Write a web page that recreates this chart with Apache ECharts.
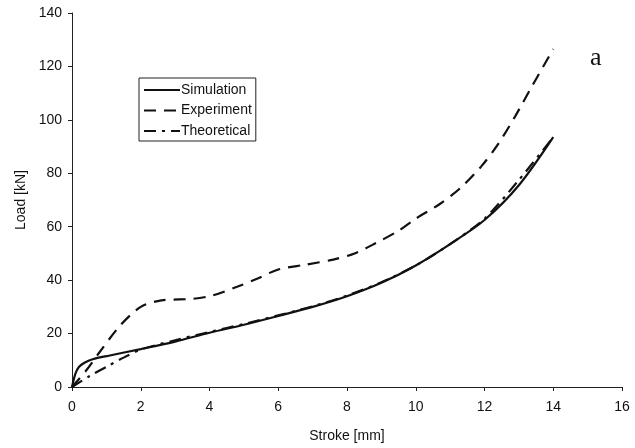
<!DOCTYPE html>
<html>
<head>
<meta charset="utf-8">
<script src="https://cdn.jsdelivr.net/npm/echarts@6/dist/echarts.min.js"></script>
<style>
html,body{margin:0;padding:0;background:#fff;}
#chart{width:635px;height:448px;}
</style>
</head>
<body>
<div id="chart"></div>
<script>
// values (stroke in mm, load in kN)
var simX = [0, 0.1, 0.2, 0.35, 0.6, 1.1, 2, 3, 4, 5, 6, 7, 8, 9, 10, 11, 12, 13, 14];
var simY = [0, 5, 7.5, 9, 10.4, 11.8, 14.2, 17, 20.3, 23.3, 26.6, 30, 34, 39, 45.5, 53.5, 62.5, 75.5, 93.5];
var expX = [0, 0.4, 0.8, 1.4, 2, 2.6, 3.5, 4.1, 4.8, 5.4, 6, 6.8, 7.6, 8.2, 8.8, 9.5, 10, 10.7, 11.3, 11.9, 12.4, 12.9, 13.4, 14];
var expY = [0, 6, 13, 23, 30, 32.4, 33, 34.3, 37.5, 40.6, 44, 45.8, 47.7, 49.9, 53.6, 58.5, 63, 68.5, 74.5, 82.5, 91, 101.5, 113, 126.5];
var theX = [0, 0.5, 1, 1.5, 2, 3, 4, 5, 6, 7, 8, 9, 10, 11, 12, 13, 14];
var theY = [0, 4, 7.5, 11, 14, 17.5, 20.6, 23.6, 26.8, 30.2, 34.2, 39.2, 45.5, 53.5, 63, 77.5, 93.5];
var xTicks = [0, 16, 2];
var yTicks = [0, 140, 20];

function pairs(xs, ys) {
    var out = [];
    for (var i = 0; i < xs.length; i++) {
        out.push([xs[i], ys[i]]);
    }
    return out;
}

var font = 'Liberation Sans, Arial, sans-serif';
var myChart = echarts.init(document.getElementById('chart'));
var option = {
    backgroundColor: '#fff',
    animation: false,
    grid: {left: 72, right: 13, top: 13, bottom: 59},
    legend: {
        orient: 'vertical',
        left: 139,
        top: 78,
        padding: [5, 4, 3, 4],
        itemGap: 6.5,
        itemWidth: 36,
        itemHeight: 14,
        borderColor: '#222',
        borderWidth: 1,
        itemStyle: {opacity: 0},
        textStyle: {fontFamily: font, fontSize: 14, color: '#111', padding: [0, 0, 0, -4]},
        data: ['Simulation', 'Experiment', 'Theoretical']
    },
    xAxis: {
        type: 'value',
        min: xTicks[0], max: xTicks[1], interval: xTicks[2],
        name: 'Stroke [mm]',
        nameLocation: 'middle',
        nameGap: 42,
        nameTextStyle: {fontFamily: font, fontSize: 14, color: '#111'},
        axisLine: {lineStyle: {color: '#222', width: 1}},
        axisTick: {length: 4, lineStyle: {color: '#222'}},
        axisLabel: {fontFamily: font, fontSize: 14, color: '#111', margin: 13},
        splitLine: {show: false}
    },
    yAxis: {
        type: 'value',
        min: yTicks[0], max: yTicks[1], interval: yTicks[2],
        name: 'Load [kN]',
        nameLocation: 'middle',
        nameGap: 44,
        nameTextStyle: {fontFamily: font, fontSize: 14, color: '#111'},
        axisLine: {show: true, lineStyle: {color: '#222', width: 1}},
        axisTick: {show: true, length: 4, lineStyle: {color: '#222'}},
        axisLabel: {fontFamily: font, fontSize: 14, color: '#111', margin: 10},
        splitLine: {show: false}
    },
    series: [
        {
            name: 'Simulation',
            type: 'line',
            smooth: 0.3,
            symbol: 'none',
            itemStyle: {color: '#111'},
            lineStyle: {color: '#111', width: 2.2, type: 'solid'},
            data: pairs(simX, simY)
        },
        {
            name: 'Experiment',
            type: 'line',
            smooth: 0.3,
            symbol: 'none',
            itemStyle: {color: '#111'},
            lineStyle: {color: '#111', width: 2.2, type: [12, 8]},
            data: pairs(expX, expY)
        },
        {
            name: 'Theoretical',
            type: 'line',
            smooth: 0.3,
            symbol: 'none',
            itemStyle: {color: '#111'},
            lineStyle: {color: '#111', width: 2.2, type: [12, 6, 3, 6]},
            data: pairs(theX, theY)
        }
    ],
    graphic: [
        {
            type: 'text',
            left: 590,
            top: 45,
            style: {text: 'a', font: '26px "Liberation Serif", "Times New Roman", serif', fill: '#111'}
        }
    ]
};
myChart.setOption(option);
</script>
</body>
</html>
